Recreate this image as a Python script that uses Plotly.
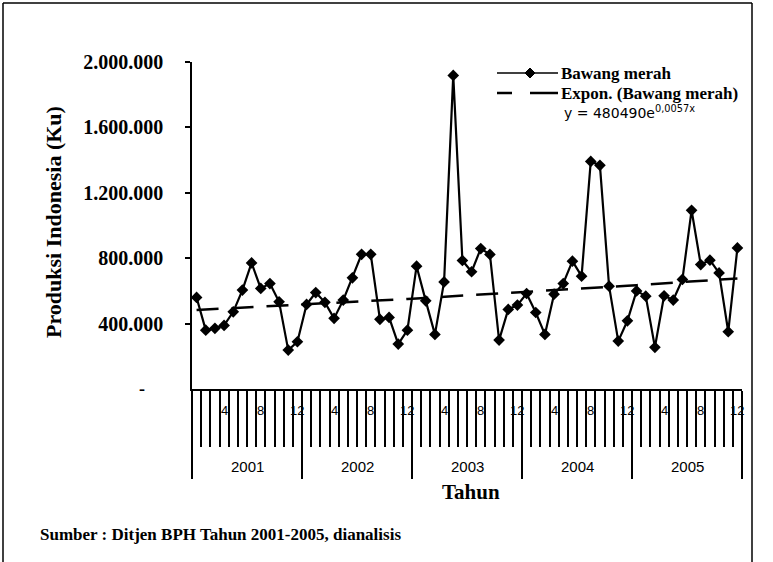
import numpy as np
import plotly.graph_objects as go

# ---------------- data ----------------
years = ["2001", "2002", "2003", "2004", "2005"]
month_labels = ["4", "8", "12"]
month_label_positions = [4, 8, 12]
production = [
    560000, 360000, 371000, 389000, 472000, 605000, 771000, 615000, 645000, 533000, 238000, 289000,
    517000, 590000, 530000, 432000, 544000, 680000, 824000, 824000, 426000, 438000, 275000, 360000,
    751000, 539000, 334000, 655000, 1918000, 786000, 717000, 859000, 823000, 299000, 487000, 513000,
    584000, 468000, 334000, 580000, 645000, 782000, 690000, 1392000, 1368000, 629000, 293000, 417000,
    600000, 568000, 255000, 570000, 544000, 670000, 1093000, 761000, 788000, 710000, 350000, 863000,
]
y_tick_values = [400000, 800000, 1200000, 1600000, 2000000]
y_tick_text = ["400.000", "800.000", "1.200.000", "1.600.000", "2.000.000"]
TREND_A = 480490
TREND_B = 0.0057

# ---------------- geometry helpers ----------------
W, H = 773, 562
L, R, T, B = 192, 742, 62, 389          # plot area in pixels
PW, PH = R - L, B - T


def px(xpix):
    return (xpix - L) / PW


def py(ypix):
    return (B - ypix) / PH


n = len(production)
x_idx = np.arange(n) + 0.5
t = np.arange(1, n + 1)
trend = TREND_A * np.exp(TREND_B * t)

SERIF = "Liberation Serif, Times New Roman, serif"
SANS = "Liberation Sans, Arial, sans-serif"

fig = go.Figure()
fig.add_trace(go.Scatter(
    x=x_idx, y=production, mode="lines+markers", name="Bawang merah",
    line=dict(color="black", width=2.2),
    marker=dict(symbol="diamond", size=9, color="black"),
    showlegend=False, cliponaxis=False,
))
fig.add_trace(go.Scatter(
    x=x_idx, y=trend, mode="lines", name="Expon. (Bawang merah)",
    line=dict(color="black", width=2.5, dash="22px,13px"),
    showlegend=False,
))

annotations = []
shapes = []


def note(**kw):
    kw.setdefault("showarrow", False)
    kw.setdefault("xanchor", "center")
    kw.setdefault("yanchor", "middle")
    annotations.append(kw)


# month labels and year labels
for yi, yr in enumerate(years):
    for lab, m in zip(month_labels, month_label_positions):
        note(x=yi * 12 + m - 0.5, y=py(410), xref="x", yref="paper",
             text=lab, font=dict(family=SANS, size=13, color="black"))
    note(x=yi * 12 + 6, y=py(466), xref="x", yref="paper",
         text=yr, font=dict(family=SANS, size=15, color="black"))

# axis titles
note(x=px(471), y=py(492), xref="paper", yref="paper", text="<b>Tahun</b>",
     font=dict(family=SERIF, size=21, color="black"))
note(x=px(53), y=py(222), xref="paper", yref="paper", text="<b>Produksi Indonesia (Ku)</b>",
     textangle=-90, font=dict(family=SERIF, size=22, color="black"))
# zero label
note(x=px(142), y=0, xref="paper", yref="y", text="<b>-</b>",
     font=dict(family=SERIF, size=18, color="black"))
# source
note(x=px(38), y=py(534), xref="paper", yref="paper", xanchor="left",
     text="<b>Sumber : Ditjen BPH Tahun 2001-2005, dianalisis</b>",
     font=dict(family=SERIF, size=17, color="black"))

# legend (manual)
shapes.append(dict(type="line", xref="paper", yref="paper", x0=px(497), x1=px(558), y0=py(73), y1=py(73),
                   line=dict(color="black", width=1.5)))
dx, dy = 5 / PW, 5 / PH
cx, cy = px(530), py(73)
shapes.append(dict(type="path", xref="paper", yref="paper",
                   path=f"M {cx - dx} {cy} L {cx} {cy + dy} L {cx + dx} {cy} L {cx} {cy - dy} Z",
                   fillcolor="black", line=dict(color="black", width=1)))
shapes.append(dict(type="line", xref="paper", yref="paper", x0=px(497), x1=px(512), y0=py(93), y1=py(93),
                   line=dict(color="black", width=2.5)))
shapes.append(dict(type="line", xref="paper", yref="paper", x0=px(530), x1=px(558), y0=py(93), y1=py(93),
                   line=dict(color="black", width=2.5)))
note(x=px(559), y=py(73), xref="paper", yref="paper", xanchor="left",
     text="<b>Bawang merah</b>", font=dict(family=SERIF, size=17, color="black"))
note(x=px(559), y=py(93), xref="paper", yref="paper", xanchor="left",
     text="<b>Expon. (Bawang merah)</b>", font=dict(family=SERIF, size=17, color="black"))
note(x=px(562), y=py(112), xref="paper", yref="paper", xanchor="left",
     text=f"y = {TREND_A}e<sup>{str(TREND_B).replace('.', ',')}x</sup>",
     font=dict(family="DejaVu Sans, sans-serif", size=14, color="black"))

# outer frame
shapes.append(dict(type="line", xref="paper", yref="paper", x0=px(3), x1=px(3), y0=py(3), y1=py(562),
                   line=dict(color="black", width=1.5)))
shapes.append(dict(type="line", xref="paper", yref="paper", x0=px(3), x1=px(752), y0=py(3), y1=py(3),
                   line=dict(color="black", width=1.5)))
shapes.append(dict(type="line", xref="paper", yref="paper", x0=px(752), x1=px(752), y0=py(3), y1=py(562),
                   line=dict(color="black", width=1.5)))

fig.update_layout(
    width=W, height=H, autosize=False,
    margin=dict(l=L, r=W - R, t=T, b=H - B, pad=0),
    paper_bgcolor="white", plot_bgcolor="white",
    showlegend=False,
    annotations=annotations, shapes=shapes,
    xaxis=dict(range=[0, n], showgrid=False, zeroline=False, showline=True, linecolor="black", linewidth=1.5,
               showticklabels=False, tickmode="linear", tick0=0, dtick=12, ticks="outside",
               ticklen=88, tickwidth=1.5, tickcolor="black",
               minor=dict(ticks="outside", tickmode="linear", tick0=0, dtick=1, ticklen=56,
                          tickwidth=1.5, tickcolor="black", showgrid=False)),
    yaxis=dict(range=[0, 2000000], showgrid=False, zeroline=False, showline=True, linecolor="black",
               linewidth=1.5, tickmode="array", tickvals=y_tick_values, ticktext=y_tick_text,
               ticks="outside", ticklen=5, tickwidth=1.5, tickcolor="black",
               tickfont=dict(family=SERIF, size=20, color="black", weight="bold"),
               ticklabelstandoff=18),
)

fig.write_html("out.html", config={"displayModeBar": False},
               post_script="document.body.style.margin='0';document.body.style.overflow='hidden';")
